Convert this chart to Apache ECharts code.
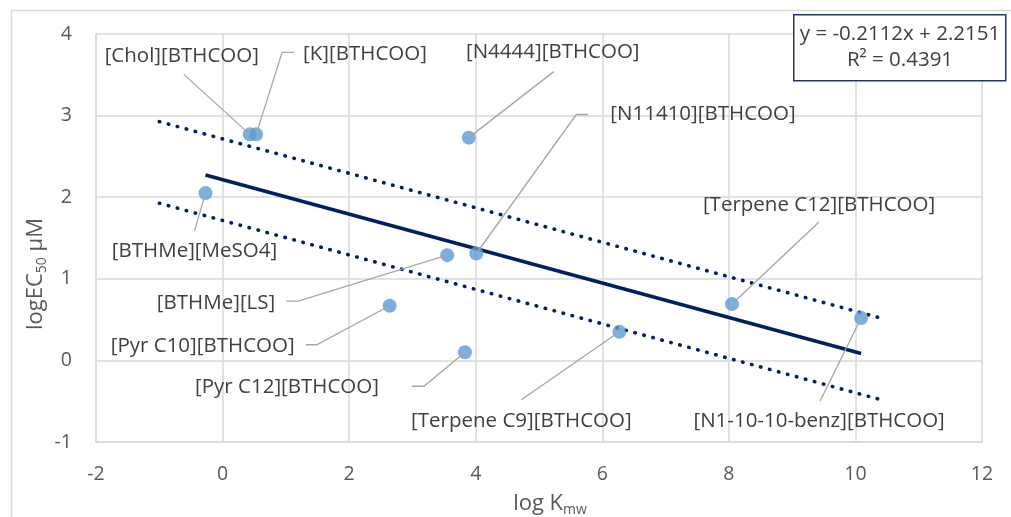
<!DOCTYPE html>
<html>
<head>
<meta charset="utf-8">
<script src="https://cdn.jsdelivr.net/npm/echarts@6/dist/echarts.min.js"></script>
<style>
  html, body { margin: 0; padding: 0; background: #ffffff; }
  #chart { width: 1011px; height: 517px; }
</style>
</head>
<body>
<div id="chart"></div>
<script>
// Compound names
const names = [
  '[Chol][BTHCOO]', '[K][BTHCOO]', '[N4444][BTHCOO]', '[BTHMe][MeSO4]',
  '[BTHMe][LS]', '[N11410][BTHCOO]', '[Pyr C10][BTHCOO]', '[Pyr C12][BTHCOO]',
  '[Terpene C9][BTHCOO]', '[Terpene C12][BTHCOO]', '[N1-10-10-benz][BTHCOO]'
];
// log Kmw
const logKmw = [0.43, 0.53, 3.89, -0.27, 3.55, 4.01, 2.64, 3.83, 6.27, 8.05, 10.09];
// log EC50 (µM)
const logEC50 = [2.77, 2.77, 2.73, 2.05, 1.29, 1.31, 0.67, 0.10, 0.35, 0.69, 0.52];

// Linear fit
const slope = -0.2112;
const intercept = 2.2151;
const rSquared = 0.4391;
// Band around the fit and its x extent
const bandHalfWidth = 0.5;
const bandX = [-1.0, 10.45];

const xTicks = [-2, 0, 2, 4, 6, 8, 10, 12];
const yTicks = [-1, 0, 1, 2, 3, 4];

// Label placement relative to each point, in px: [dx, dy, align]
const labelPlace = [
  [-68, -78, 'center'], [47, -80, 'left'], [84, -85, 'center'], [-11, 58, 'center'],
  [-172, 48, 'right'], [134, -139, 'left'], [-95, 40, 'right'], [-86, 35, 'right'],
  [-98, 89, 'center'], [87, -99, 'center'], [-42, 103, 'center']
];
// Leader line end relative to each point, in px: [dx, dy, horizontal tail]
const leaderPlace = [
  [-66, -60, 0], [26, -82, 12], [85, -66, 0], [-11, 38, 0],
  [-149, 46, -12], [100, -139, 12], [-73, 39, -11], [-41, 34, -12],
  [-98, 68, 0], [87, -82, 0], [-41, 83, 0]
];

const FONT = '"Open Sans", sans-serif';
const TEXT = '#404040';
const AXIS_TEXT = '#595959';
const fit = x => slope * x + intercept;

const points = logKmw.map((x, i) => [x, logEC50[i]]);
const fitX = [Math.min(...logKmw), Math.max(...logKmw)];
const fitLine = fitX.map(x => [x, fit(x)]);
const upper = bandX.map(x => [x, fit(x) + bandHalfWidth]);
const lower = bandX.map(x => [x, fit(x) - bandHalfWidth]);

const chart = echarts.init(document.getElementById('chart'), null, { renderer: 'canvas' });

const dotted = { color: '#002060', width: 3.6, type: [0.5, 8.8], cap: 'round' };

// Leader line plus label for one compound
function renderLabel(params, api) {
  const i = params.dataIndex;
  const p = api.coord([api.value(0), api.value(1)]);
  const [lx, ly, tail] = leaderPlace[i];
  const pts = [[p[0], p[1]], [p[0] + lx, p[1] + ly]];
  if (tail) pts.push([p[0] + lx + tail, p[1] + ly]);
  const [tx, ty, align] = labelPlace[i];
  return {
    type: 'group',
    children: [
      { type: 'polyline', shape: { points: pts },
        style: { stroke: '#a6a6a6', lineWidth: 1.3, fill: null } },
      { type: 'text', x: p[0] + tx, y: p[1] + ty,
        style: { text: names[i], fill: TEXT, font: '20.5px ' + FONT,
          align: align, verticalAlign: 'middle' } }
    ]
  };
}

chart.setOption({
  animation: false,
  backgroundColor: '#ffffff',
  textStyle: { fontFamily: FONT },
  grid: { left: 96, right: 29, top: 34, bottom: 75 },
  xAxis: {
    type: 'value', min: -2, max: 12, interval: 2,
    axisLine: { show: true, onZero: false, lineStyle: { color: '#d9d9d9', width: 1.5 } },
    axisTick: { show: false },
    splitLine: { show: true, lineStyle: { color: '#d9d9d9', width: 1.5 } },
    axisLabel: { color: AXIS_TEXT, fontSize: 19.5, fontFamily: FONT, margin: 22,
      formatter: v => xTicks.includes(v) ? String(v) : '' }
  },
  yAxis: {
    type: 'value', min: -1, max: 4, interval: 1,
    axisLine: { show: true, onZero: false, lineStyle: { color: '#d9d9d9', width: 1.5 } },
    axisTick: { show: false },
    splitLine: { show: true, lineStyle: { color: '#d9d9d9', width: 1.5 } },
    axisLabel: { color: AXIS_TEXT, fontSize: 19.5, fontFamily: FONT, margin: 24,
      formatter: v => yTicks.includes(v) ? String(v) : '' }
  },
  series: [
    { type: 'line', data: upper, symbol: 'none', lineStyle: dotted, z: 2, silent: true },
    { type: 'line', data: lower, symbol: 'none', lineStyle: dotted, z: 2, silent: true },
    { type: 'line', data: fitLine, symbol: 'none', lineStyle: { color: '#002060', width: 3.5 }, z: 3, silent: true },
    { type: 'scatter', data: points, symbolSize: 14, z: 4, itemStyle: { color: '#5B9BD5' } },
    { type: 'custom', data: points, renderItem: renderLabel, clip: false, z: 5,
      encode: { x: 0, y: 1 }, silent: true }
  ],
  graphic: [
    { type: 'rect', left: 9, top: 8, shape: { width: 1010, height: 520 },
      style: { fill: 'none', stroke: '#d9d9d9', lineWidth: 1.5 }, silent: true, z: -1 },
    // Axis titles
    { type: 'text', x: 36, y: 274, rotation: Math.PI / 2, z: 10,
      style: {
        text: '{m|logEC}{s|50}{m| µM}', align: 'center', verticalAlign: 'middle',
        rich: {
          m: { font: '22px ' + FONT, fill: AXIS_TEXT },
          s: { font: '14px ' + FONT, fill: AXIS_TEXT, padding: [12, 0, 0, 0] }
        }
      } },
    { type: 'text', x: 550, y: 504, z: 10,
      style: {
        text: '{m|log K}{s|mw}', align: 'center', verticalAlign: 'middle',
        rich: {
          m: { font: '22px ' + FONT, fill: AXIS_TEXT },
          s: { font: '14px ' + FONT, fill: AXIS_TEXT, padding: [12, 0, 0, 0] }
        }
      } },
    // Fit equation box
    { type: 'rect', left: 793, top: 14, shape: { width: 212, height: 66 },
      style: { fill: '#ffffff', stroke: '#1F3864', lineWidth: 1.5 }, z: 10 },
    { type: 'text', x: 900, y: 34, z: 11,
      style: { text: 'y = ' + slope.toFixed(4) + 'x + ' + intercept.toFixed(4),
        fill: TEXT, font: '20.5px ' + FONT, align: 'center', verticalAlign: 'middle' } },
    { type: 'text', x: 900, y: 60, z: 11,
      style: { text: 'R² = ' + rSquared.toFixed(4),
        fill: TEXT, font: '20.5px ' + FONT, align: 'center', verticalAlign: 'middle' } }
  ]
});
</script>
</body>
</html>
